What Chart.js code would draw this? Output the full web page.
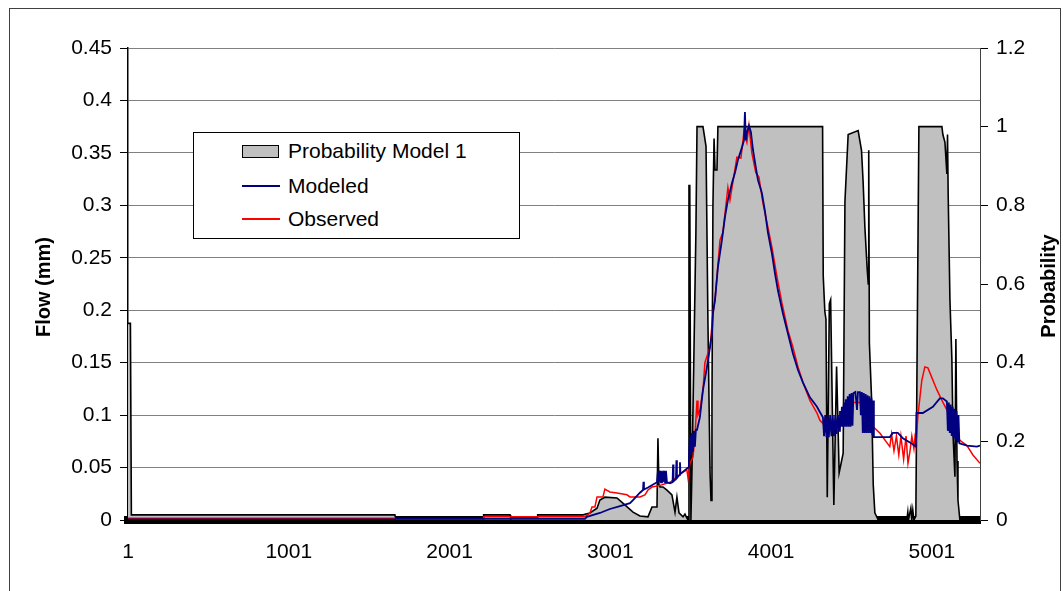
<!DOCTYPE html>
<html>
<head>
<meta charset="utf-8">
<script src="https://cdn.jsdelivr.net/npm/chart.js@4/dist/chart.umd.min.js"></script>
<style>
  body { margin: 0; background: #fff; }
  #wrap { position: relative; width: 1063px; height: 591px; overflow: hidden; }
  #frame { position: absolute; left: 9px; top: 8px; width: 1050px; height: 600px; border: 1px solid #404040; }
  #chart { position: absolute; left: 0; top: 0; }
  #legend { position: absolute; left: 193px; top: 132px; width: 325px; height: 105px; border: 1px solid #000; background: #fff;
            font-family: "Liberation Sans", Arial, sans-serif; font-size: 21px; color: #000; }
  #legend .sw { position: absolute; left: 48px; }
  #legend .txt { position: absolute; left: 94px; line-height: 24px; white-space: nowrap; }
</style>
</head>
<body>
<div id="wrap">
  <div id="frame"></div>
  <canvas id="chart" width="1063" height="591"></canvas>
  <div id="legend">
    <div class="sw" style="top:12px;width:35px;height:11px;background:#c0c0c0;border:1px solid #000;"></div>
    <div class="txt" style="top:6px;">Probability Model 1</div>
    <div class="sw" style="top:52px;width:38px;height:2px;background:#000080;"></div>
    <div class="txt" style="top:41px;">Modeled</div>
    <div class="sw" style="top:85px;width:38px;height:2px;background:#ff0000;"></div>
    <div class="txt" style="top:74px;">Observed</div>
  </div>
</div>
<script>
// x tick labels (time step)
const xTicks = [1, 1001, 2001, 3001, 4001, 5001];

// Probability Model 1 (right axis), [step, probability]
const probSeries = [
  [1, 0.5], [16, 0.5], [22, 0.013], [1661, 0.013], [1665, 0.005], [2209, 0.005], [2213, 0.013],
  [2377, 0.013], [2381, 0.005], [2545, 0.005], [2549, 0.013], [2831, 0.013], [2874, 0.018],
  [2918, 0.03], [2936, 0.051], [2967, 0.058], [3042, 0.056], [3079, 0.043], [3142, 0.02],
  [3185, 0.01], [3235, 0.008], [3260, 0.033], [3291, 0.033], [3297, 0.208], [3303, 0.09],
  [3310, 0.084], [3328, 0.084], [3353, 0.076], [3384, 0.064], [3403, 0.02], [3415, 0.058],
  [3428, 0.018], [3453, 0.008], [3465, 0.015], [3477, 0.005], [3484, 0], [3490, 0.85],
  [3495, 0.85], [3502, 0], [3509, 0.135], [3521, 0.43], [3533, 0.73], [3540, 1.0], [3577, 1.0],
  [3596, 0.95], [3608, 0.5], [3621, 0.12], [3627, 0.05], [3633, 0.3], [3639, 0.8], [3646, 0.97],
  [3652, 0.89], [3664, 0.89], [3670, 1.0], [4321, 1.0], [4325, 0.62], [4335, 0.53], [4342, 0.51],
  [4350, 0.058], [4363, 0.55], [4371, 0.56], [4391, 0.038], [4408, 0.39], [4424, 0.12],
  [4439, 0.15], [4449, 0.17], [4460, 0.81], [4480, 0.98], [4542, 0.99], [4563, 0.94], [4573, 0.86],
  [4584, 0.745], [4598, 0.64], [4605, 0.6], [4608, 0.94], [4612, 0.45], [4626, 0.305],
  [4636, 0.09], [4646, 0.018], [4667, 0], [4845, 0], [4851, 0.02], [4855, 0], [4870, 0.03],
  [4876, 0], [4882, 0.025], [4889, 0], [4901, 0.01], [4913, 0.64], [4920, 1.0], [5063, 1.0],
  [5069, 0.98], [5082, 0.96], [5094, 0.88], [5098, 0.98], [5102, 0.83], [5113, 0.56], [5125, 0.41],
  [5132, 0.22], [5144, 0.11], [5150, 0.46], [5157, 0.15], [5163, 0.05], [5175, 0], [5300, 0]
];

// Modeled flow (mm), [step, flow]
const modeledSeries = [
  [1, 0.0005], [1661, 0.0005], [1665, 0.001], [2843, 0.001], [2855, 0.003], [2936, 0.0067],
  [2998, 0.0105], [3061, 0.0133], [3123, 0.016], [3142, 0.019], [3185, 0.026], [3204, 0.0286],
  [3207, 0.0365], [3210, 0.029], [3235, 0.031], [3291, 0.036],
  [3297, 0.047], [3303, 0.036], [3310, 0.047], [3316, 0.036], [3322, 0.047], [3328, 0.036],
  [3335, 0.047], [3341, 0.036], [3347, 0.047], [3353, 0.036],
  [3372, 0.035], [3388, 0.036], [3391, 0.053], [3394, 0.037], [3409, 0.039], [3412, 0.057],
  [3415, 0.04], [3431, 0.043], [3434, 0.055], [3437, 0.044], [3484, 0.05],
  [3490, 0.06], [3496, 0.08], [3502, 0.062], [3509, 0.083], [3515, 0.065], [3521, 0.085],
  [3527, 0.07], [3533, 0.086], [3540, 0.086],
  [3558, 0.098], [3577, 0.124], [3602, 0.146], [3621, 0.165], [3633, 0.178], [3639, 0.197],
  [3652, 0.21], [3670, 0.241], [3695, 0.267], [3714, 0.289], [3732, 0.305], [3757, 0.321],
  [3776, 0.331], [3794, 0.343], [3819, 0.355], [3832, 0.362], [3838, 0.389], [3844, 0.362],
  [3850, 0.369], [3863, 0.376], [3875, 0.37], [3888, 0.353], [3906, 0.336], [3919, 0.324],
  [3943, 0.312], [3962, 0.295], [3981, 0.274], [4006, 0.254], [4025, 0.235], [4043, 0.219],
  [4074, 0.197], [4105, 0.178], [4136, 0.159], [4168, 0.143], [4199, 0.131], [4242, 0.117],
  [4286, 0.108], [4304, 0.103], [4323, 0.098],
  [4330, 0.08], [4337, 0.1], [4345, 0.079], [4352, 0.1], [4360, 0.079], [4368, 0.1],
  [4376, 0.08], [4384, 0.1], [4392, 0.08], [4400, 0.1], [4408, 0.082], [4416, 0.1],
  [4424, 0.085], [4429, 0.104],
  [4435, 0.089], [4441, 0.108], [4447, 0.089], [4453, 0.112], [4459, 0.089], [4465, 0.115],
  [4471, 0.089], [4477, 0.118], [4483, 0.089], [4489, 0.12], [4495, 0.089], [4501, 0.121],
  [4507, 0.09], [4513, 0.121], [4525, 0.122], [4535, 0.105], [4541, 0.122], [4553, 0.122],
  [4559, 0.1], [4565, 0.122],
  [4571, 0.083], [4577, 0.121], [4583, 0.083], [4589, 0.12], [4595, 0.083], [4601, 0.119],
  [4607, 0.083], [4613, 0.118], [4619, 0.083], [4625, 0.116], [4631, 0.081], [4636, 0.114],
  [4640, 0.079],
  [4739, 0.079], [4758, 0.083], [4789, 0.083], [4820, 0.078], [4864, 0.074], [4901, 0.07],
  [4905, 0.102], [4944, 0.102], [5007, 0.108], [5050, 0.116], [5069, 0.116], [5094, 0.113],
  [5100, 0.085], [5106, 0.112], [5112, 0.083], [5118, 0.11], [5124, 0.08], [5130, 0.108],
  [5136, 0.078], [5142, 0.106], [5148, 0.076], [5154, 0.104], [5160, 0.074], [5166, 0.1],
  [5172, 0.073],
  [5219, 0.071], [5281, 0.07], [5300, 0.071]
];

// Observed flow (mm), [step, flow]
const observedSeries = [
  [1, 0.0016], [1661, 0.0016], [1665, 0], [2209, 0], [2213, 0.003], [2843, 0.003],
  [2874, 0.0067], [2887, 0.0124], [2905, 0.0124], [2918, 0.022], [2955, 0.022], [2967, 0.0295],
  [2998, 0.0267], [3042, 0.0257], [3104, 0.024], [3123, 0.022], [3185, 0.022], [3216, 0.024],
  [3235, 0.0286], [3260, 0.0314], [3310, 0.033], [3372, 0.036], [3415, 0.041], [3446, 0.045],
  [3477, 0.0477], [3484, 0.04], [3496, 0.054], [3515, 0.06], [3527, 0.08], [3540, 0.114],
  [3546, 0.1], [3558, 0.105], [3577, 0.124], [3589, 0.15], [3621, 0.165], [3639, 0.197],
  [3652, 0.21], [3683, 0.267], [3701, 0.274], [3732, 0.317], [3745, 0.305], [3788, 0.346],
  [3813, 0.345], [3832, 0.37], [3850, 0.36], [3863, 0.376], [3881, 0.35], [3906, 0.331],
  [3925, 0.327], [3950, 0.302], [3981, 0.279], [4006, 0.26], [4037, 0.232], [4068, 0.207],
  [4105, 0.181], [4136, 0.165], [4168, 0.146], [4199, 0.131], [4242, 0.114], [4286, 0.102],
  [4304, 0.095], [4323, 0.092], [4335, 0.088], [4385, 0.086], [4429, 0.088], [4447, 0.095],
  [4479, 0.114], [4510, 0.112], [4553, 0.112], [4584, 0.107], [4615, 0.098], [4634, 0.089],
  [4677, 0.083], [4739, 0.07], [4750, 0.082], [4765, 0.066], [4780, 0.08], [4795, 0.062],
  [4808, 0.08], [4825, 0.058], [4840, 0.08], [4852, 0.054], [4864, 0.065], [4876, 0.08],
  [4889, 0.068], [4895, 0.078], [4901, 0.072], [4907, 0.083], [4913, 0.098], [4938, 0.133],
  [4957, 0.146], [4976, 0.145], [5000, 0.136], [5032, 0.124], [5063, 0.114], [5094, 0.105],
  [5132, 0.089], [5175, 0.076], [5219, 0.071], [5256, 0.062], [5300, 0.054]
];

const toPoints = s => s.map(p => ({ x: p[0], y: p[1] }));
const tickFont = { family: 'Liberation Sans', size: 21 };

// axis titles: both read bottom-to-top
const axisTitles = {
  id: 'axisTitles',
  afterDraw(chart) {
    const ctx = chart.ctx;
    ctx.save();
    ctx.font = 'bold 20px "Liberation Sans"';
    ctx.fillStyle = '#000';
    ctx.textAlign = 'center';
    ctx.textBaseline = 'middle';
    [['Flow (mm)', 44, 287], ['Probability', 1049, 286]].forEach(t => {
      ctx.save();
      ctx.translate(t[1], t[2]);
      ctx.rotate(-Math.PI / 2);
      ctx.fillText(t[0], 0, 0);
      ctx.restore();
    });
    ctx.restore();
  }
};

new Chart(document.querySelector('#chart').getContext('2d'), {
  type: 'line',
  data: {
    datasets: [
      {
        label: 'Modeled',
        data: toPoints(modeledSeries),
        yAxisID: 'y',
        borderColor: '#000080',
        borderWidth: 1.8,
        order: 0
      },
      {
        label: 'Observed',
        data: toPoints(observedSeries),
        yAxisID: 'y',
        borderColor: '#ff0000',
        borderWidth: 1.5,
        order: 1
      },
      {
        label: 'Probability Model 1',
        data: toPoints(probSeries),
        yAxisID: 'y1',
        borderColor: '#000',
        backgroundColor: '#c0c0c0',
        borderWidth: 1.6,
        fill: 'origin',
        order: 2
      }
    ]
  },
  options: {
    responsive: false,
    animation: false,
    devicePixelRatio: 1,
    layout: { padding: { top: 48, left: 0, right: 0, bottom: 0 } },
    elements: { point: { radius: 0 }, line: { tension: 0 } },
    plugins: { legend: { display: false }, tooltip: { enabled: false } },
    scales: {
      x: {
        type: 'linear',
        min: 1,
        max: 5300,
        afterBuildTicks: axis => { axis.ticks = xTicks.map(v => ({ value: v })); },
        afterFit: s => { s.height = 71; },
        ticks: { autoSkip: false, maxRotation: 0, padding: 12, color: '#000', font: tickFont,
                 callback: v => String(v) },
        grid: { drawOnChartArea: false, tickLength: 8, tickColor: 'transparent' },
        border: { color: '#000', width: 8 }
      },
      y: {
        position: 'left',
        min: 0,
        max: 0.45,
        afterFit: s => { s.width = 128; },
        ticks: { stepSize: 0.05, padding: 8, color: '#000', font: tickFont,
                 callback: v => String(Number(v.toFixed(2))) },
        grid: { color: '#808080', lineWidth: 1, tickLength: 8, tickColor: '#000' },
        border: { color: '#000', width: 1.5 }
      },
      y1: {
        position: 'right',
        min: 0,
        max: 1.2,
        afterFit: s => { s.width = 83; },
        ticks: { stepSize: 0.2, padding: 8, color: '#000', font: tickFont,
                 callback: v => String(Number(v.toFixed(1))) },
        grid: { drawOnChartArea: false, tickLength: 8, tickColor: '#000' },
        border: { color: '#404040', width: 1 }
      }
    }
  },
  plugins: [axisTitles]
});
</script>
</body>
</html>
